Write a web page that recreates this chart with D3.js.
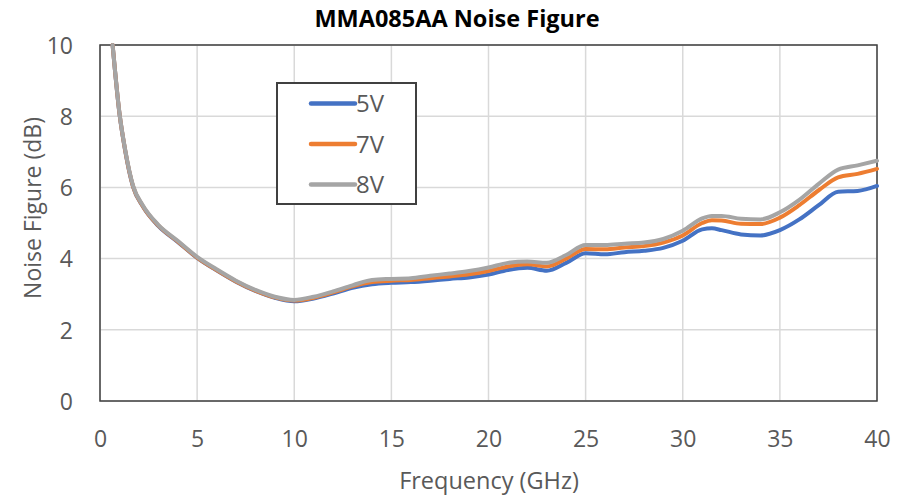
<!DOCTYPE html>
<html><head><meta charset="utf-8">
<script src="https://cdn.jsdelivr.net/npm/d3@7"></script>
<style>body{margin:0;background:#fff}svg{display:block}</style>
</head><body>
<svg id="chart" width="900" height="496"></svg>
<script>
const title = "MMA085AA Noise Figure";
const xTitle = "Frequency (GHz)";
const yTitle = "Noise Figure (dB)";
const xTicks = [0, 5, 10, 15, 20, 25, 30, 35, 40];
const yTicks = [0, 2, 4, 6, 8, 10];
const seriesNames = ["5V", "7V", "8V"];
const seriesColors = ["#4472c4", "#ed7d31", "#a5a5a5"];

const freq = [0.65, 1.0, 1.3, 1.7, 2.2, 3.0, 4.0, 5.0, 6.0, 7.0, 8.0, 9.0, 10.0, 11.0, 12.0, 13.0, 14.0, 15.0, 16.0, 17.0, 18.0, 19.0, 20.0, 21.0, 22.0, 23.0, 24.0, 25.0, 26.0, 27.0, 28.0, 29.0, 30.0, 31.0, 31.5, 32.0, 33.0, 34.0, 35.0, 36.0, 37.0, 38.0, 39.0, 40.0];
const nf5V = [10, 8.08, 7.02, 6.02, 5.47, 4.92, 4.47, 4.02, 3.67, 3.35, 3.09, 2.9, 2.8, 2.88, 3.02, 3.18, 3.28, 3.32, 3.34, 3.38, 3.43, 3.47, 3.55, 3.68, 3.74, 3.66, 3.88, 4.15, 4.12, 4.18, 4.22, 4.3, 4.5, 4.82, 4.85, 4.8, 4.68, 4.65, 4.8, 5.1, 5.5, 5.88, 5.9, 6.04];
const nf7V = [10, 8.09, 7.03, 6.03, 5.48, 4.93, 4.48, 4.03, 3.68, 3.36, 3.1, 2.91, 2.82, 2.9, 3.05, 3.22, 3.34, 3.38, 3.4, 3.45, 3.5, 3.56, 3.65, 3.78, 3.84, 3.78, 4.0, 4.27, 4.26, 4.31, 4.35, 4.45, 4.65, 5.0, 5.08, 5.07, 4.98, 4.97, 5.15, 5.5, 5.92, 6.28, 6.38, 6.52];
const nf8V = [10, 8.1, 7.05, 6.05, 5.5, 4.95, 4.5, 4.05, 3.7, 3.38, 3.12, 2.93, 2.84, 2.93, 3.08, 3.25, 3.4, 3.43, 3.45, 3.52, 3.58, 3.65, 3.75, 3.88, 3.92, 3.88, 4.1, 4.38, 4.38, 4.42, 4.45, 4.55, 4.78, 5.13, 5.2, 5.2, 5.12, 5.1, 5.3, 5.65, 6.1, 6.5, 6.62, 6.75];
const seriesValues = [nf5V, nf7V, nf8V];

const svg = d3.select("#chart");
const L = 100, R = 877, T = 45, B = 401;
const x = d3.scaleLinear().domain([0, 40]).range([L, R]);
const y = d3.scaleLinear().domain([0, 10]).range([B, T]);
const font = "'Open Sans', 'DejaVu Sans', sans-serif";
const txtColor = "#595959";

// gridlines
svg.append("g").selectAll("line.v").data(xTicks).join("line")
  .attr("x1", d => x(d)).attr("x2", d => x(d)).attr("y1", T).attr("y2", B)
  .attr("stroke", "#d9d9d9").attr("stroke-width", 1.5);
svg.append("g").selectAll("line.h").data(yTicks).join("line")
  .attr("x1", L).attr("x2", R).attr("y1", d => y(d)).attr("y2", d => y(d))
  .attr("stroke", "#d9d9d9").attr("stroke-width", 1.5);

// axes (labels only)
const xAxis = svg.append("g").attr("transform", `translate(0,${B + 38})`)
  .call(d3.axisBottom(x).tickValues(xTicks).tickSize(0).tickPadding(0));
xAxis.select(".domain").remove();
xAxis.selectAll("text").attr("font-family", font).attr("font-size", 23).attr("fill", txtColor).attr("dy", "0.36em");

const yAxis = svg.append("g").attr("transform", `translate(${L - 27},0)`)
  .call(d3.axisLeft(y).tickValues(yTicks).tickSize(0).tickPadding(0));
yAxis.select(".domain").remove();
yAxis.selectAll("text").attr("font-family", font).attr("font-size", 23).attr("fill", txtColor).attr("dy", "0.36em");

// frame
svg.append("rect").attr("x", L).attr("y", T).attr("width", R - L).attr("height", B - T)
  .attr("fill", "none").attr("stroke", "#404040").attr("stroke-width", 1.5);

// lines
const line = d3.line().x(d => x(d[0])).y(d => y(d[1])).curve(d3.curveMonotoneX);
seriesValues.forEach((vals, i) => {
  svg.append("path").datum(freq.map((f, j) => [f, vals[j]]))
    .attr("d", line).attr("fill", "none").attr("stroke", seriesColors[i])
    .attr("stroke-width", 4).attr("stroke-linejoin", "round").attr("stroke-linecap", "round");
});

// title
svg.append("text").attr("x", 457).attr("y", 27).attr("text-anchor", "middle")
  .attr("font-family", font).attr("font-weight", "bold").attr("font-size", 23.5).attr("fill", "#000")
  .text(title);

// axis titles
svg.append("text").attr("x", 489).attr("y", 489).attr("text-anchor", "middle")
  .attr("font-family", font).attr("font-size", 23.5).attr("fill", txtColor).text(xTitle);
svg.append("text").attr("transform", `translate(41,208) rotate(-90)`).attr("text-anchor", "middle")
  .attr("font-family", font).attr("font-size", 23).attr("fill", txtColor).text(yTitle);

// legend
const lg = svg.append("g");
lg.append("rect").attr("x", 277).attr("y", 83).attr("width", 139).attr("height", 121)
  .attr("fill", "#fff").attr("stroke", "#404040").attr("stroke-width", 2);
seriesNames.forEach((n, i) => {
  const yy = 103.5 + i * 40.5;
  lg.append("line").attr("x1", 311).attr("x2", 355).attr("y1", yy).attr("y2", yy)
    .attr("stroke", seriesColors[i]).attr("stroke-width", 4.5).attr("stroke-linecap", "round");
  lg.append("text").attr("x", 356).attr("y", yy).attr("dy", "0.36em")
    .attr("font-family", font).attr("font-size", 24).attr("fill", txtColor).text(n);
});
</script>
</body></html>
